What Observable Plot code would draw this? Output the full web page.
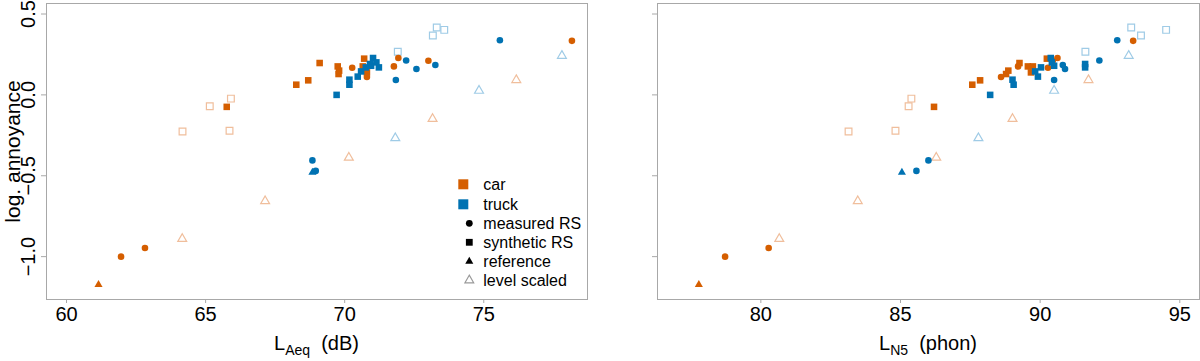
<!DOCTYPE html>
<html>
<head>
<meta charset="utf-8">
<script src="https://cdn.jsdelivr.net/npm/d3@7"></script>
<script src="https://cdn.jsdelivr.net/npm/@observablehq/plot@0.6"></script>
<style>
  body { margin: 0; background: #fff; }
  #wrap { display: flex; width: 1200px; height: 361px; overflow: hidden; }
</style>
</head>
<body>
<div id="wrap"></div>
<script>
// Each row: [log. annoyance, LAeq (dB), LN5 (phon)]
const carReference = [[-1.173, 61.15, 77.78]];
const truckReference = [[-0.479, 68.84, 85.05]];

const carMeasured = [
  [-1.000, 61.96, 78.72],
  [-0.947, 62.82, 80.28],
  [0.111, 70.80, 88.60],
  [0.168, 70.27, 90.28],
  [0.176, 71.77, 89.21],
  [0.228, 71.93, 90.62],
  [0.211, 73.01, 90.45],
  [0.334, 78.17, 93.33]
];
const carSynthetic = [
  [-0.074, 65.76, 86.20],
  [0.063, 68.26, 87.57],
  [0.090, 68.69, 87.85],
  [0.197, 69.10, 89.26],
  [0.176, 69.75, 89.56],
  [0.150, 69.80, 88.86],
  [0.129, 69.78, 88.78],
  [0.224, 70.70, 90.24],
  [0.176, 70.65, 89.74],
  [0.139, 70.80, 89.67]
];
const truckMeasured = [
  [-0.405, 68.84, 86.00],
  [-0.470, 68.96, 85.57],
  [0.092, 71.84, 90.50],
  [0.213, 72.21, 92.12],
  [0.160, 72.58, 90.89],
  [0.185, 73.26, 90.81],
  [0.338, 75.58, 92.76]
];
const truckSynthetic = [
  [0.000, 69.71, 88.21],
  [0.094, 70.17, 89.01],
  [0.063, 70.17, 89.05],
  [0.113, 70.47, 89.92],
  [0.145, 70.59, 89.82],
  [0.170, 70.76, 90.03],
  [0.180, 70.95, 90.50],
  [0.228, 71.02, 90.38],
  [0.201, 71.14, 90.42],
  [0.170, 71.23, 91.61],
  [0.191, 70.91, 91.61]
];
const carLevelScaled = [
  [-0.890, 64.16, 80.66],
  [-0.657, 67.14, 83.47],
  [-0.388, 70.15, 86.28],
  [-0.148, 73.16, 89.01],
  [0.092, 76.17, 91.73]
];
const truckLevelScaled = [
  [-0.267, 71.82, 87.79],
  [0.026, 74.83, 90.50],
  [0.242, 77.81, 93.17]
];
const carLevelScaledSynthetic = [
  [-0.226, 64.17, 83.14],
  [-0.222, 65.86, 84.82],
  [-0.070, 65.15, 85.29],
  [-0.023, 65.91, 85.39]
];
const truckLevelScaledSynthetic = [
  [0.267, 71.91, 91.62],
  [0.367, 73.17, 93.61],
  [0.417, 73.31, 93.26],
  [0.402, 73.58, 94.51]
];

const xTicksLAeq = [60, 65, 70, 75];
const xTicksLN5 = [80, 85, 90, 95];
const yTicks = [0.5, 0, -0.5, -1];
const legendVehicles = ["car", "truck"];
const legendTypes = ["measured RS", "synthetic RS", "reference", "level scaled"];

const ORANGE = "#D55E00", BLUE = "#0072B2";
const ORANGE_L = "#F0BE9C", BLUE_L = "#9FCBE6";
const GRAY = "#a8a8a8";
const FONT = "'Liberation Sans', Arial, Helvetica, sans-serif";

const fmt = d => d.toFixed(1).replace("-", "\u2212");

function makePanel(col, o) {
  const pts = arr => arr.map(d => ({x: d[col], y: d[0]}));
  const plot = Plot.plot({
    width: 600, height: 361,
    marginLeft: o.ml, marginRight: o.mr, marginTop: 3, marginBottom: 62,
    x: {domain: o.xDomain},
    y: {domain: [-1.265, 0.565]},
    style: {fontFamily: FONT, fontSize: "20px", background: "white", color: "black", overflow: "visible"},
    marks: [
      Plot.frame({stroke: GRAY}),
      Plot.axisX(o.xTicks, {tickSize: 4, tickPadding: 3, stroke: GRAY, fill: "black", fontSize: 20, label: null}),
      Plot.axisY(yTicks, {tickSize: 5, stroke: GRAY, fill: "none", label: null}),
      o.yLabels ? Plot.text(yTicks, {y: d => d, text: fmt, frameAnchor: "left", textAnchor: "middle", dx: -18, rotate: -90, fontSize: 20}) : null,
      o.yLabels ? Plot.text(["log. annoyance"], {frameAnchor: "left", textAnchor: "middle", dx: -33, rotate: -90, fontSize: 21}) : null,
      Plot.dot(pts(carLevelScaledSynthetic), {x: "x", y: "y", symbol: "square", r: 3.8, stroke: ORANGE_L, fill: "none", strokeWidth: 1.2}),
      Plot.dot(pts(truckLevelScaledSynthetic), {x: "x", y: "y", symbol: "square", r: 3.8, stroke: BLUE_L, fill: "none", strokeWidth: 1.2}),
      Plot.dot(pts(carLevelScaled), {x: "x", y: "y", symbol: "triangle", r: 3.3, stroke: ORANGE_L, fill: "none", strokeWidth: 1.2}),
      Plot.dot(pts(truckLevelScaled), {x: "x", y: "y", symbol: "triangle", r: 3.3, stroke: BLUE_L, fill: "none", strokeWidth: 1.2}),
      Plot.dot(pts(carReference), {x: "x", y: "y", symbol: "triangle", r: 3, fill: ORANGE, stroke: null}),
      Plot.dot(pts(carSynthetic), {x: "x", y: "y", symbol: "square", r: 3.7, fill: ORANGE, stroke: null}),
      Plot.dot(pts(carMeasured), {x: "x", y: "y", symbol: "circle", r: 3.3, fill: ORANGE, stroke: null}),
      Plot.dot(pts(truckReference), {x: "x", y: "y", symbol: "triangle", r: 3, fill: BLUE, stroke: null}),
      Plot.dot(pts(truckSynthetic), {x: "x", y: "y", symbol: "square", r: 3.7, fill: BLUE, stroke: null}),
      Plot.dot(pts(truckMeasured), {x: "x", y: "y", symbol: "circle", r: 3.3, fill: BLUE, stroke: null})
    ]
  });
  const svg = d3.select(plot);
  // axis title with subscript
  const cx = (o.ml + 600 - o.mr) / 2;
  const t = svg.append("text").attr("x", cx).attr("y", 350).attr("text-anchor", "middle")
    .attr("font-size", 20).attr("fill", "black");
  t.append("tspan").text("L");
  t.append("tspan").attr("font-size", 14).attr("dy", 5).text(o.sub);
  t.append("tspan").attr("dy", -5).text("\u00a0\u00a0(" + o.unit + ")");

  if (o.legend) {
    const g = svg.append("g").attr("font-size", 16).attr("fill", "black").attr("text-anchor", "start");
    const rowY = [184.3, 204.3, 223.3, 242.3, 261.3, 280.3];
    const sx = 469.3, tx = 483.3;
    [ORANGE, BLUE].forEach((c, i) => {
      g.append("rect").attr("x", 458.3).attr("y", rowY[i] - 5).attr("width", 10).attr("height", 10).attr("fill", c);
      g.append("text").attr("x", tx).attr("y", rowY[i]).attr("dominant-baseline", "central").attr("text-anchor", "start").text(legendVehicles[i]);
    });
    g.append("circle").attr("cx", sx).attr("cy", rowY[2]).attr("r", 3.4).attr("fill", "black");
    g.append("rect").attr("x", sx - 3.4).attr("y", rowY[3] - 3.4).attr("width", 6.8).attr("height", 6.8).attr("fill", "black");
    g.append("path").attr("d", d3.symbol(d3.symbolTriangle, Math.PI * 9)()).attr("transform", `translate(${sx},${rowY[4]})`).attr("fill", "black");
    g.append("path").attr("d", d3.symbol(d3.symbolTriangle, Math.PI * 11)()).attr("transform", `translate(${sx},${rowY[5]})`)
      .attr("fill", "none").attr("stroke", "#999").attr("stroke-width", 1.1);
    legendTypes.forEach((s, i) => {
      g.append("text").attr("x", tx).attr("y", rowY[i + 2]).attr("dominant-baseline", "central").attr("text-anchor", "start").text(s);
    });
  }
  return plot;
}

const wrap = document.getElementById("wrap");
wrap.appendChild(makePanel(1, {ml: 46, mr: 13, xDomain: [59.28, 78.73], xTicks: xTicksLAeq, yLabels: true, sub: "Aeq", unit: "dB", legend: true}));
wrap.appendChild(makePanel(2, {ml: 57, mr: 1, xDomain: [76.30, 95.705], xTicks: xTicksLN5, yLabels: false, sub: "N5", unit: "phon", legend: false}));
</script>
</body>
</html>
